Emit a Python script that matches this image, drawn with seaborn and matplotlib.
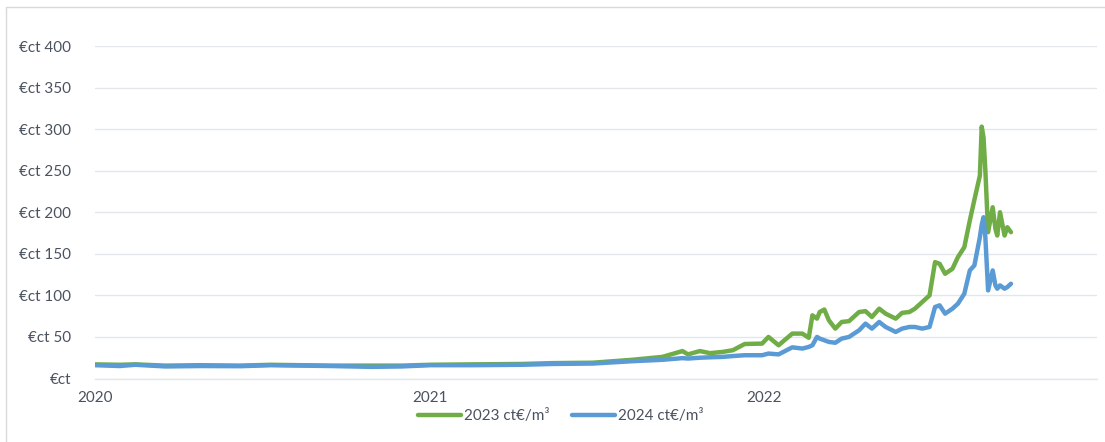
import matplotlib
matplotlib.use("Agg")
import matplotlib.pyplot as plt
import matplotlib.dates as mdates
from matplotlib.patches import Rectangle
from matplotlib.ticker import FuncFormatter
import pandas as pd
import seaborn as sns

dates = [
    "2020-01-01", "2020-01-28", "2020-02-14", "2020-03-18", "2020-04-25", "2020-06-08",
    "2020-07-11", "2020-08-13", "2020-09-15", "2020-10-29", "2020-12-01", "2021-01-01",
    "2021-02-16", "2021-04-12", "2021-05-15", "2021-06-28", "2021-08-10", "2021-09-12",
    "2021-10-04", "2021-10-10", "2021-10-23", "2021-11-03", "2021-11-17", "2021-11-28",
    "2021-12-11", "2021-12-30", "2022-01-06", "2022-01-17", "2022-02-01", "2022-02-12",
    "2022-02-19", "2022-02-23", "2022-02-28", "2022-03-03", "2022-03-08", "2022-03-13",
    "2022-03-20", "2022-03-27", "2022-04-04", "2022-04-15", "2022-04-22", "2022-04-29",
    "2022-05-07", "2022-05-14", "2022-05-25", "2022-06-01", "2022-06-09", "2022-06-15",
    "2022-06-23", "2022-07-01", "2022-07-07", "2022-07-12", "2022-07-18", "2022-07-26",
    "2022-08-01", "2022-08-08", "2022-08-14", "2022-08-19", "2022-08-25", "2022-08-27",
    "2022-08-29", "2022-08-31", "2022-09-03", "2022-09-08", "2022-09-11", "2022-09-13",
    "2022-09-16", "2022-09-21", "2022-09-24", "2022-09-28",
]
series_2023 = [
    17, 16.5, 17, 15.5, 16, 15.5,
    16.5, 16, 15.5, 15.5, 15.5, 16.5,
    17, 17.5, 18.5, 19, 22.5, 26,
    33, 29, 33, 30.5, 32, 34,
    41.5, 42, 50, 40, 54, 54,
    49, 76, 72, 80, 83, 70,
    60, 68, 69, 80, 81, 74,
    84, 78, 72, 79, 80, 84,
    92, 100, 140, 138, 126, 132,
    146, 158, 190, 215, 244, 303,
    290, 250, 176, 206, 180, 172,
    200, 172, 182, 176,
]
series_2024 = [
    16, 15, 16.5, 14.5, 15, 14.8,
    16, 15.5, 15, 14, 14.5, 16,
    16, 16.5, 17.5, 18, 20.8, 22.5,
    24.5, 24, 25, 25.5, 26, 27,
    28, 28, 30, 29, 37.5, 36,
    38, 40, 50, 48, 46, 44,
    43, 48, 50, 58, 66, 60,
    68, 62, 56, 60, 62, 62,
    60, 62, 86, 88, 78, 84,
    90, 102, 130, 136, 170, 185,
    194, 170, 106, 130, 112, 108,
    112, 108, 110, 114,
]
labels = ["2023 ct€/m³", "2024 ct€/m³"]
year_ticks = ["2020-01-01", "2021-01-01", "2022-01-01"]
y_ticks = [0, 50, 100, 150, 200, 250, 300, 350, 400]

df = pd.DataFrame({
    "date": pd.to_datetime(dates * 2),
    "value": series_2023 + series_2024,
    "series": [labels[0]] * len(dates) + [labels[1]] * len(dates),
})

sns.set_theme(style="white")
plt.rcParams["font.family"] = ["Lato", "DejaVu Sans"]

W, H = 1105, 442
fig = plt.figure(figsize=(W / 100, H / 100), dpi=100)
ax = fig.add_axes([95 / W, 1 - 378.5 / H, (1097 - 95) / W, (378.5 - 46) / H])

palette = {labels[0]: "#70ad47", labels[1]: "#5b9bd5"}
sns.lineplot(data=df, x="date", y="value", hue="series", palette=palette,
             linewidth=3.2, ax=ax, legend=False)

ax.set_xlim(pd.Timestamp("2020-01-01"), pd.Timestamp("2022-12-31"))
ax.set_ylim(0, 400)
ax.set_yticks(y_ticks)
ax.yaxis.set_major_formatter(FuncFormatter(lambda v, p: "€ct" if v == 0 else f"€ct {int(v)}"))
ax.set_xticks(pd.to_datetime(year_ticks))
ax.xaxis.set_major_formatter(mdates.DateFormatter("%Y"))
ax.set_xlabel("")
ax.set_ylabel("")

ax.grid(axis="y", color="#e3e6eb", linewidth=1.0)
ax.set_axisbelow(True)
for s in ["top", "right", "left"]:
    ax.spines[s].set_visible(False)
ax.spines["bottom"].set_color("#e3e6eb")
ax.spines["bottom"].set_linewidth(1.0)
ax.tick_params(axis="both", length=0, labelsize=11, colors="#4a5260")
ax.tick_params(axis="y", pad=17)
ax.tick_params(axis="x", pad=9)

handles = [plt.Line2D([], [], color=palette[l], linewidth=3.2) for l in labels]
fig.legend(handles, labels, loc="center", bbox_to_anchor=(561 / W, 1 - 416 / H),
           ncol=2, frameon=False, fontsize=11, handlelength=2.8, handletextpad=0.2,
           columnspacing=1.5, labelcolor="#4a5260")

fig.patches.append(Rectangle((6 / W, -0.1), 1.2, 1 - 7 / H + 0.1, transform=fig.transFigure,
                             fill=False, edgecolor="#d9d9d9", linewidth=1.0))

fig.savefig("out.png", dpi=100)
